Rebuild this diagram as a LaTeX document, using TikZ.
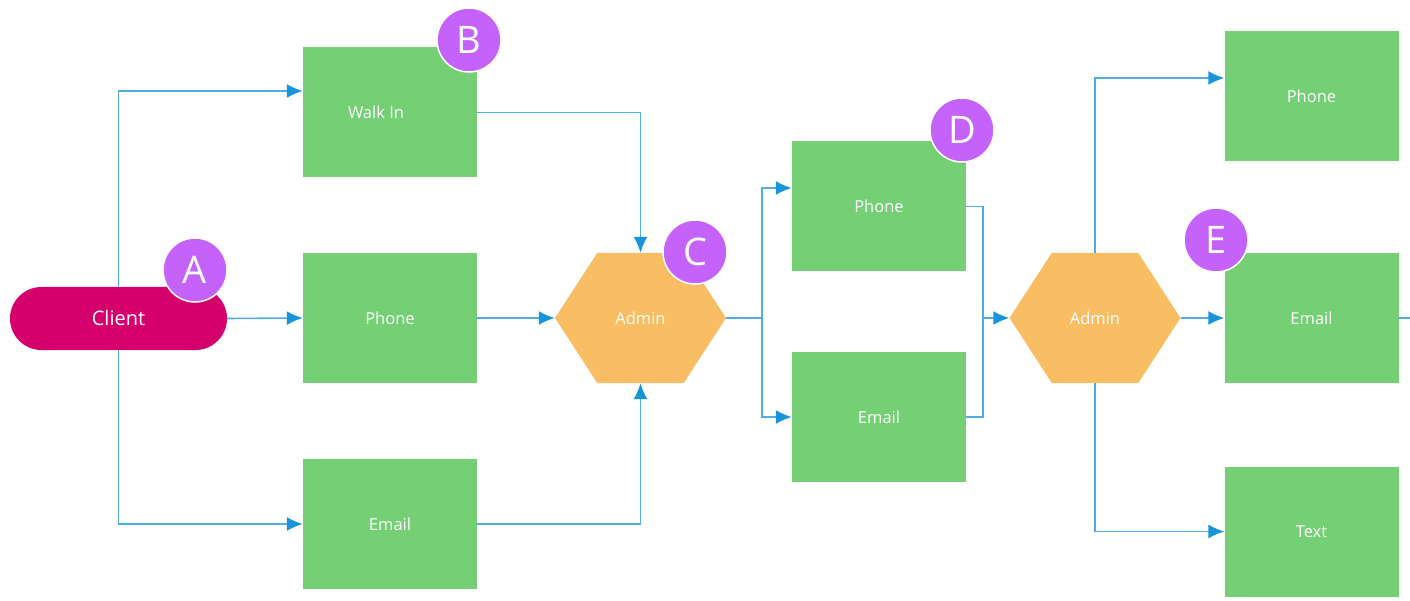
\documentclass[tikz,border=0pt]{standalone}
\usepackage{fontspec}
\setmainfont{Open Sans}
\usepackage{tikz}
\usetikzlibrary{calc}
\usetikzlibrary{arrows.meta}
\usetikzlibrary{shapes}
\usetikzlibrary{shapes.symbols}
\usetikzlibrary{positioning}
\definecolor{boxgreen}{RGB}{116,207,117}
\definecolor{hexorange}{RGB}{249,190,100}
\definecolor{clientred}{RGB}{214,0,108}
\definecolor{badgepurple}{RGB}{196,98,250}
\definecolor{flowblue}{RGB}{80,172,226}
\definecolor{tipblue}{RGB}{24,148,218}
\tikzset{>={Latex[length=16pt,width=14pt,color=tipblue]}}
\tikzset{
  greenbox/.style = {fill=boxgreen, draw=none, minimum width=174pt, minimum height=130pt, inner sep=0, text=white, font=\fontsize{16.5}{20}\selectfont},
  adminhex/.style = {shape=signal, signal to=west and east, signal pointer angle=114, fill=hexorange, draw=none, minimum width=171pt, minimum height=130pt, inner sep=0, text=white, font=\fontsize{16.5}{20}\selectfont},
  badge/.style = {circle, fill=badgepurple, draw=white, line width=1.5pt, minimum size=64pt, inner sep=0, text=white, font=\fontsize{38}{40}\selectfont},
  flow/.style = {draw=flowblue, line width=1.6pt},
}

\begin{document}
\begin{tikzpicture}[x=1pt, y=-1pt]
\useasboundingbox (0,0) rectangle (1410,601);
%\fill [white] (0,0) rectangle (1410,601);
\node [fill=clientred, rounded corners=31.5pt, minimum width=217pt, minimum height=63pt, inner sep=0, text=white, font=\fontsize{20}{24}\selectfont] (client) at (118.5, 318.5) {Client};

% first column
\node [greenbox, label={[xshift=-14pt, text=white, font=\fontsize{16.5}{20}\selectfont]center:Walk In}] (walkin) at (390, 112.5) {};
\node [greenbox] (phone1) at (390, 318) {Phone};
\node [greenbox] (email1) at (390, 524) {Email};
\node [adminhex] (admin1) at (640.5, 318) {Admin};

% second column
\node [greenbox] (phone2) at (879, 206.5) {Phone};
\node [greenbox] (email2) at (879, 417) {Email};
\node [adminhex] (admin2) at (1095, 318) {Admin};

% third column
\node [greenbox] (phone3) at (1311.5, 96) {Phone};
\node [greenbox] (email3) at (1311.5, 318) {Email};
\node [greenbox] (text3) at (1311.5, 531.5) {Text};

\coordinate (split) at (762, 318);
\coordinate (join) at (983, 318);
\coordinate (onward) at (1410, 318);

\draw [flow, ->] (client.north) |- ([yshift=21.5pt]walkin.west);
\draw [flow, ->] (client.east) to (phone1.west);
\draw [flow, ->] (client.south) |- (email1.west);
\draw [flow, ->] (walkin.east) -| (admin1.north);
\draw [flow, ->] (phone1.east) to (admin1.west);
\draw [flow, ->] (email1.east) -| (admin1.south);
\draw [flow] (admin1.east) to (split);
\draw [flow, ->] (split) |- ([yshift=18.5pt]phone2.west);
\draw [flow, ->] (split) |- (email2.west);
\draw [flow] (phone2.east) -| (join);
\draw [flow] (email2.east) -| (join);
\draw [flow, ->] (join) to (admin2.west);
\draw [flow, ->] (admin2.north) |- ([yshift=18pt]phone3.west);
\draw [flow, ->] (admin2.east) to (email3.west);
\draw [flow, ->] (admin2.south) |- (text3.west);
\draw [flow] (email3.east) to (onward);

% letters
\node [badge] (tagA) at (195, 270) {A};
\node [badge] (tagB) at (469, 40) {B};
\node [badge] (tagC) at (695, 252) {C};
\node [badge] (tagD) at (962, 130) {D};
\node [badge] (tagE) at (1216, 240) {E};
\end{tikzpicture}
\end{document}
